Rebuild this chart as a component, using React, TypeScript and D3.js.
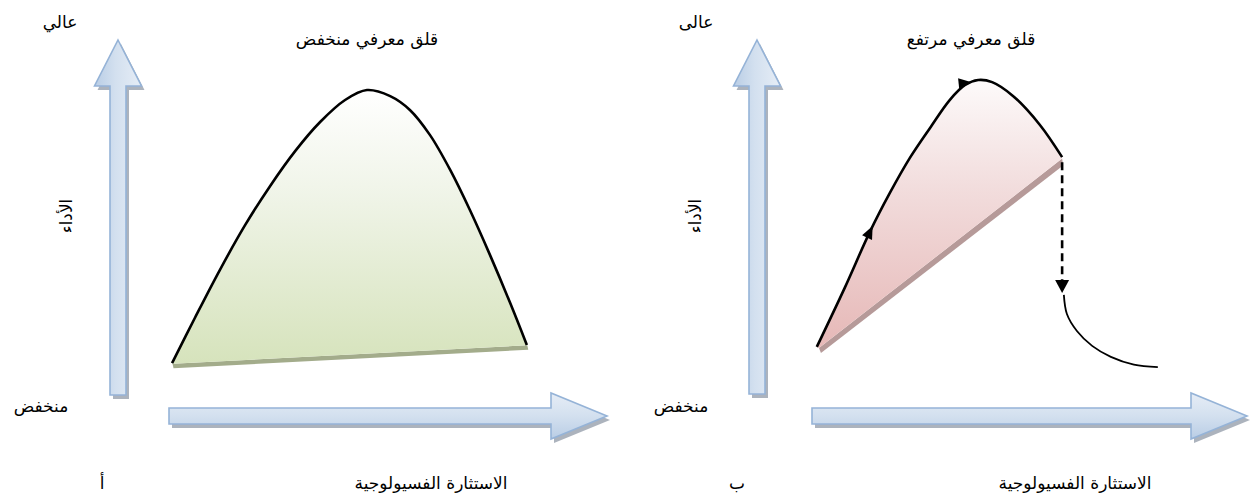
import React, { useEffect, useRef } from 'react';
import * as d3 from 'd3';

// performance (0-100) against physiological arousal (0-100)
const lowAnxietyCurve = [
  { a: 0.7, p: 9.0 }, { a: 5.9, p: 21.7 }, { a: 11.6, p: 35.2 }, { a: 17.4, p: 47.9 },
  { a: 23.1, p: 58.9 }, { a: 28.8, p: 68.7 }, { a: 34.5, p: 76.9 }, { a: 40.2, p: 83.1 },
  { a: 45.2, p: 85.9 }, { a: 50.5, p: 84.2 }, { a: 55.0, p: 80.3 }, { a: 59.6, p: 73.2 },
  { a: 64.2, p: 63.4 }, { a: 68.7, p: 52.1 }, { a: 73.3, p: 39.4 }, { a: 77.9, p: 25.9 },
  { a: 81.7, p: 14.1 },
];
const lowAnxietyBase = [{ a: 81.8, p: 14.0 }, { a: 0.8, p: 8.8 }];

const highAnxietyRise = [
  { a: 1.1, p: 13.3 }, { a: 7.6, p: 30.2 }, { a: 13.3, p: 45.8 }, { a: 17.9, p: 56.8 },
  { a: 22.5, p: 66.7 }, { a: 27.1, p: 75.1 }, { a: 31.7, p: 83.1 }, { a: 35.2, p: 87.3 },
  { a: 38.2, p: 88.7 }, { a: 41.4, p: 88.1 }, { a: 46.2, p: 84.2 }, { a: 52.4, p: 76.0 },
  { a: 57.5, p: 66.9 },
];
const highAnxietyBase = [{ a: 57.5, p: 66.5 }, { a: 1.6, p: 13.0 }];
const highAnxietyFall = [{ a: 57.5, p: 65.5 }, { a: 57.5, p: 31.5 }];
const highAnxietyAfter = [
  { a: 57.9, p: 28.0 }, { a: 58.6, p: 22.6 }, { a: 60.9, p: 17.8 }, { a: 64.4, p: 13.6 },
  { a: 68.7, p: 10.5 }, { a: 74.0, p: 8.3 }, { a: 79.5, p: 7.6 },
];

const titles = ['قلق معرفي منخفض', 'قلق معرفي مرتفع'];
const highLabels = ['عالي', 'عالى'];
const lowLabel = 'منخفض';
const yLabel = 'الأداء';
const xLabel = 'الاستثارة الفسيولوجية';
const panelLetters = ['أ', 'ب'];

const FONT = '"DejaVu Sans", sans-serif';

const App = () => {
  const ref = useRef(null);

  useEffect(() => {
    const width = 1251;
    const height = 502;

    d3.select(ref.current).select('svg').remove();

    const svg = d3
      .select(ref.current)
      .append('svg')
      .attr('width', width)
      .attr('height', height)
      .style('position', 'absolute')
      .style('left', 0)
      .style('top', 0)
      .style('display', 'block');

    const defs = svg.append('defs');

    const grad = (id, stops, x2, y2) => {
      const g = defs.append('linearGradient').attr('id', id)
        .attr('x1', 0).attr('y1', 0).attr('x2', x2).attr('y2', y2);
      stops.forEach(([o, c]) => g.append('stop').attr('offset', o).attr('stop-color', c));
    };
    grad('arrowV', [[0, '#b9cde5'], [0.45, '#d3e0ef'], [1, '#e6edf6']], 1, 0);
    grad('arrowH', [[0, '#e6edf6'], [0.5, '#d3e0ef'], [1, '#b9cde5']], 0, 1);
    grad('greenFill', [[0, '#ffffff'], [0.35, '#f1f5ea'], [1, '#d6e3bc']], 0, 1);
    grad('redFill', [[0, '#fdfafa'], [0.4, '#f2dddd'], [1, '#e6b8b7']], 0, 1);

    const panels = [
      { x: [169, 607], y: [395, 40], vx: 118, letterX: 102, lowX: 41, highX: 60, titleX: 367, yLabX: 66, xLabX: 431 },
      { x: [812, 1247], y: [394, 40], vx: 757, letterX: 737, lowX: 681, highX: 696, titleX: 971, yLabX: 695, xLabX: 1075 },
    ];

    const text = (x, y, s, size = 17) =>
      svg.append('text')
        .attr('x', x).attr('y', y)
        .attr('text-anchor', 'middle')
        .style('font-family', FONT)
        .style('font-size', `${size}px`)
        .attr('fill', '#000')
        .text(s);

    const triangle = (cx, cy, angle, len = 13, w = 11) => {
      const p = d3.path();
      p.moveTo(len / 2, 0);
      p.lineTo(-len / 2, -w / 2);
      p.lineTo(-len / 2, w / 2);
      p.closePath();
      svg.append('path')
        .attr('d', p.toString())
        .attr('fill', '#000')
        .attr('transform', `translate(${cx},${cy}) rotate(${angle})`);
    };

    panels.forEach((cfg, i) => {
      const x = d3.scaleLinear().domain([0, 100]).range(cfg.x);
      const y = d3.scaleLinear().domain([0, 100]).range(cfg.y);

      // vertical axis arrow
      const [yBottom, yTop] = cfg.y;
      const sw = 8, hw = 23.5, hl = 46;
      const vPath = d3.path();
      vPath.moveTo(cfg.vx, yTop);
      vPath.lineTo(cfg.vx + hw, yTop + hl);
      vPath.lineTo(cfg.vx + sw, yTop + hl);
      vPath.lineTo(cfg.vx + sw, yBottom);
      vPath.lineTo(cfg.vx - sw, yBottom);
      vPath.lineTo(cfg.vx - sw, yTop + hl);
      vPath.lineTo(cfg.vx - hw, yTop + hl);
      vPath.closePath();

      // horizontal axis arrow
      const [xLeft, xRight] = cfg.x;
      const hy = 416, hsw = 8, hhw = 23, hhl = 56;
      const hPath = d3.path();
      hPath.moveTo(xRight, hy);
      hPath.lineTo(xRight - hhl, hy - hhw);
      hPath.lineTo(xRight - hhl, hy - hsw);
      hPath.lineTo(xLeft, hy - hsw);
      hPath.lineTo(xLeft, hy + hsw);
      hPath.lineTo(xRight - hhl, hy + hsw);
      hPath.lineTo(xRight - hhl, hy + hhw);
      hPath.closePath();

      [vPath, hPath].forEach((p) => {
        svg.append('path').attr('d', p.toString())
          .attr('fill', '#9da6b2').attr('opacity', 0.85)
          .attr('transform', 'translate(3,4)');
      });
      svg.append('path').attr('d', vPath.toString())
        .attr('fill', 'url(#arrowV)').attr('stroke', '#95b3d7').attr('stroke-width', 1.6);
      svg.append('path').attr('d', hPath.toString())
        .attr('fill', 'url(#arrowH)').attr('stroke', '#95b3d7').attr('stroke-width', 1.6);

      const line = d3.line().x((d) => x(d.a)).y((d) => y(d.p)).curve(d3.curveCatmullRom.alpha(0.5));
      const straight = d3.line().x((d) => x(d.a)).y((d) => y(d.p));

      if (i === 0) {
        const [b0, b1] = lowAnxietyBase;
        svg.append('path')
          .attr('d', `M${x(b1.a)},${y(b1.p)}L${x(b0.a)},${y(b0.p)}L${x(b0.a) + 1},${y(b0.p) + 4.5}L${x(b1.a) + 1},${y(b1.p) + 4.5}Z`)
          .attr('fill', '#a3ac8b');
        svg.append('path')
          .attr('d', line(lowAnxietyCurve) + straight(lowAnxietyBase).replace('M', 'L') + 'Z')
          .attr('fill', 'url(#greenFill)');
        svg.append('path')
          .attr('d', line(lowAnxietyCurve))
          .attr('fill', 'none').attr('stroke', '#000').attr('stroke-width', 2.6);
      } else {
        const [b0, b1] = highAnxietyBase;
        svg.append('path')
          .attr('d', `M${x(b0.a)},${y(b0.p)}L${x(b1.a)},${y(b1.p)}L${x(b1.a) + 2},${y(b1.p) + 5}L${x(b0.a) + 1},${y(b0.p) + 7}Z`)
          .attr('fill', '#b69a99');
        svg.append('path')
          .attr('d', line(highAnxietyRise) + straight(highAnxietyBase).replace('M', 'L') + 'Z')
          .attr('fill', 'url(#redFill)');
        svg.append('path')
          .attr('d', line(highAnxietyRise))
          .attr('fill', 'none').attr('stroke', '#000').attr('stroke-width', 2.6);

        // direction markers along the rising curve
        const ang = (p, q) => (Math.atan2(y(q.p) - y(p.p), x(q.a) - x(p.a)) * 180) / Math.PI;
        const r = highAnxietyRise;
        triangle(x(r[2].a), y(r[2].p), ang(r[1], r[3]));
        triangle(x(r[7].a), y(r[7].p) - 2, ang(r[7], r[9]));

        // dashed fall
        svg.append('path')
          .attr('d', straight(highAnxietyFall))
          .attr('fill', 'none').attr('stroke', '#000').attr('stroke-width', 2.6)
          .attr('stroke-dasharray', '8,5');
        const f = highAnxietyFall[1];
        triangle(x(f.a), y(f.p) + 4, 90, 13, 14);

        svg.append('path')
          .attr('d', line(highAnxietyAfter))
          .attr('fill', 'none').attr('stroke', '#000').attr('stroke-width', 1.8);
      }

      // labels
      text(cfg.highX, 28, highLabels[i]);
      text(cfg.titleX, 45, titles[i]);
      text(cfg.lowX, 412, lowLabel);
      text(cfg.letterX, 489, panelLetters[i]);
      text(cfg.xLabX, 489, xLabel);
      text(cfg.yLabX, 222, yLabel)
        .attr('transform', `rotate(-90, ${cfg.yLabX}, 216)`);
    });
  }, []);

  return <div ref={ref}></div>;
};

export default App;
